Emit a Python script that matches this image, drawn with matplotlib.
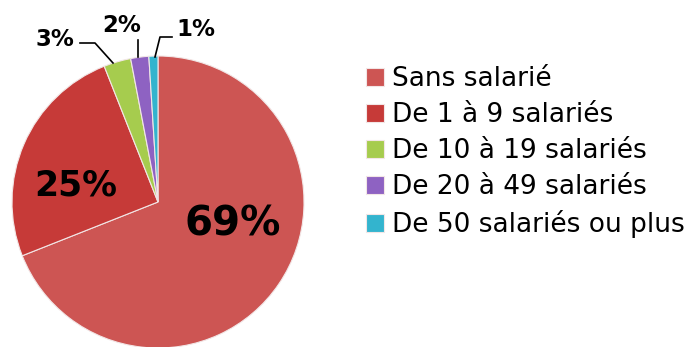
import matplotlib
matplotlib.use("Agg")
import matplotlib.pyplot as plt
import numpy as np

categories = ["Sans salarié", "De 1 à 9 salariés", "De 10 à 19 salariés",
              "De 20 à 49 salariés", "De 50 salariés ou plus"]
shares = [69, 25, 3, 2, 1]
colors = ["#CD5553", "#C63A38", "#A6CC4E", "#8E62C2", "#33B4CE"]

plt.rcParams["font.family"] = ["DejaVu Sans"]

fig = plt.figure(figsize=(6.91, 3.47), dpi=100)
W, H = 691, 347

# pie occupies a square region in pixel units
cx, cy, r = 158, 202, 146
ax = fig.add_axes([(cx - r) / W, (H - cy - r) / H, 2 * r / W, 2 * r / H])
wedges, _ = ax.pie(shares, colors=colors, startangle=90, counterclock=False,
                   radius=1.0, wedgeprops=dict(edgecolor="#F2E6E6", linewidth=0.8))
ax.set_xlim(-1, 1)
ax.set_ylim(-1, 1)
ax.set_aspect("equal")
ax.set_clip_on(False)

def px(x, y):
    # convert figure pixel coords (from top-left) to pie data coords
    return (x - cx) / r, (cy - y) / r

# large inside labels
big = {0: ((233, 224), 29), 1: ((76, 185), 25)}
for i, ((x, y), fs) in big.items():
    ax.text(*px(x, y), f"{shares[i]}%", ha="center", va="center",
            fontsize=fs, fontweight="bold", color="black")

# small outside labels with leader lines
small = {
    2: ((55, 39), [(80, 43), (95, 43), (113, 63)]),
    3: ((122, 26), [(138, 40), (138, 57)]),
    4: ((196, 29), [(172, 37), (160, 37), (155, 57)]),
}
for i, ((x, y), path) in small.items():
    ax.text(*px(x, y), f"{shares[i]}%", ha="center", va="center",
            fontsize=16.5, fontweight="bold", color="black")
    pts = np.array([px(a, b) for a, b in path])
    ax.plot(pts[:, 0], pts[:, 1], color="black", lw=1.2, clip_on=False)

leg = fig.legend(wedges, categories, loc="upper left",
                 bbox_to_anchor=(366 / W, 1 - 66 / H), frameon=False,
                 fontsize=19, handlelength=0.68, handleheight=0.68,
                 handletextpad=0.3, labelspacing=0.38, borderaxespad=0,
                 borderpad=0)

fig.savefig("out.png", dpi=100)
